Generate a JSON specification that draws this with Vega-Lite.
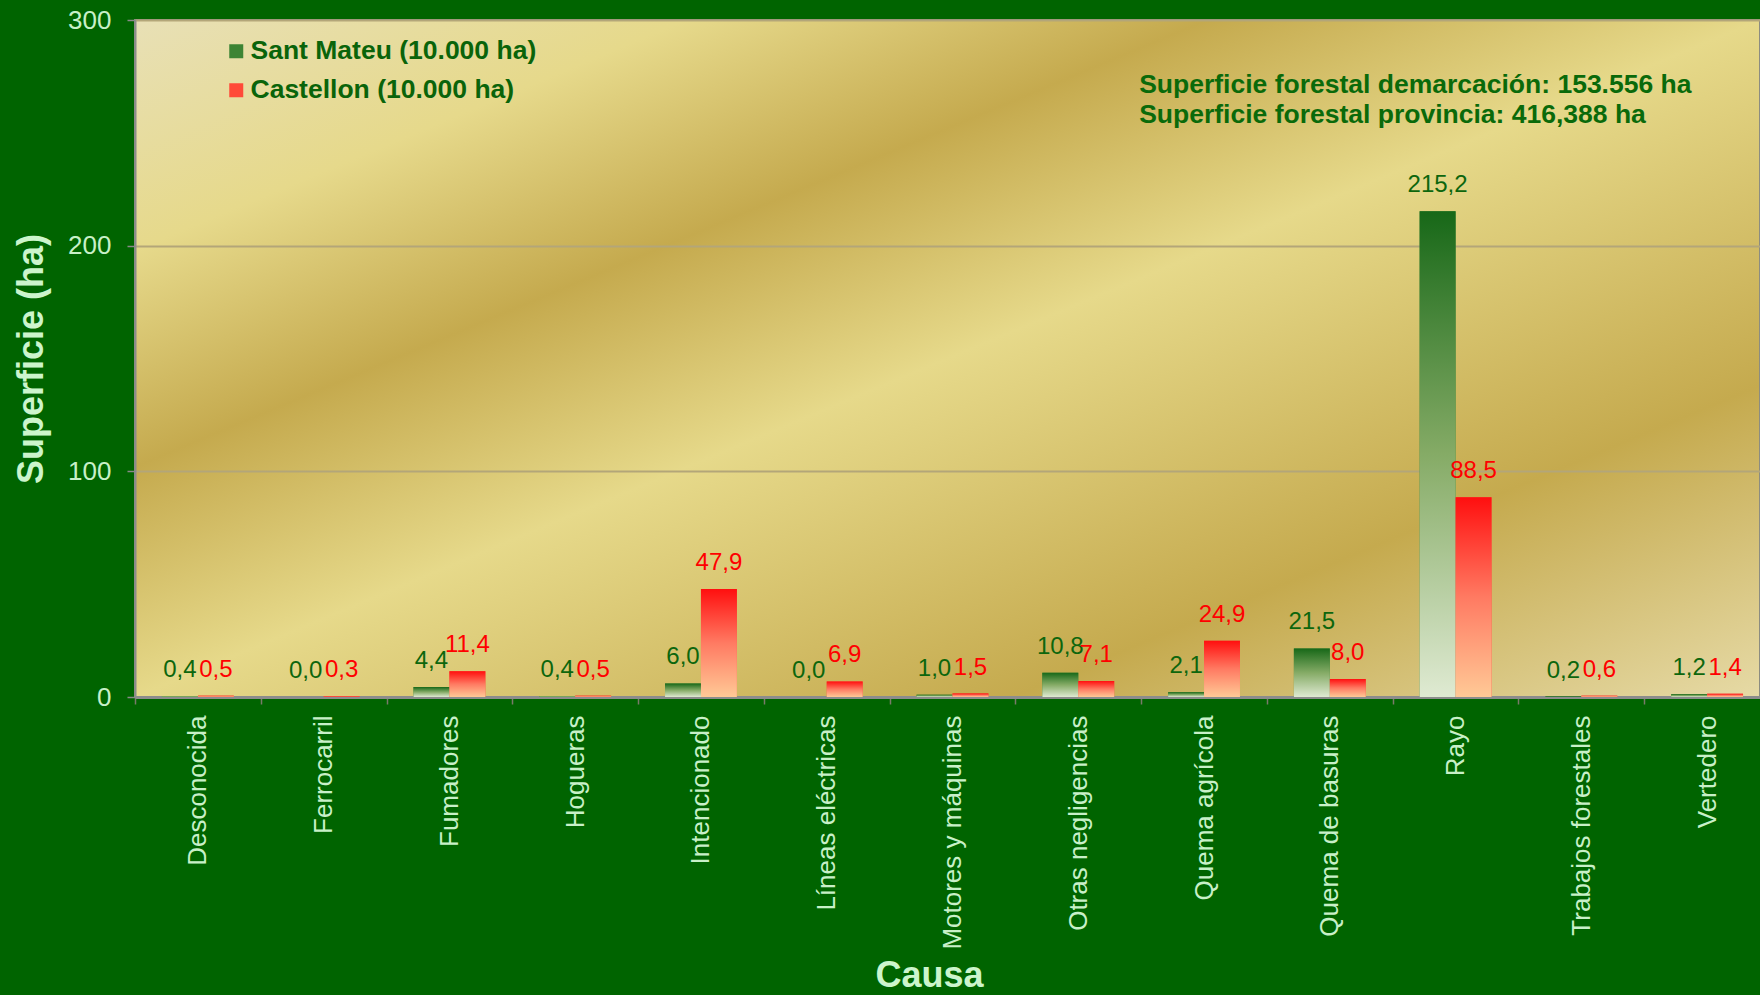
{
  "$schema": "https://vega.github.io/schema/vega-lite/v6.json",
  "width": 1625,
  "height": 677,
  "autosize": {"type": "none"},
  "padding": {"left": 135, "top": 20, "right": 0, "bottom": 298},
  "background": "#006400",
  "config": {
    "locale": {"number": {"decimal": ",", "thousands": ".", "grouping": [3], "currency": ["", " €"]}},
    "font": "Liberation Sans",
    "view": {
      "fill": {
        "gradient": "linear", "x1": 0, "y1": 0, "x2": 1, "y2": 1,
        "stops": [
          {"offset": 0, "color": "#e8e0b6"},
          {"offset": 0.17, "color": "#e6d98b"},
          {"offset": 0.33, "color": "#c5aa4e"},
          {"offset": 0.5, "color": "#e6d98a"},
          {"offset": 0.77, "color": "#c5aa4e"},
          {"offset": 1, "color": "#e6daa6"}
        ]
      },
      "stroke": "#8c8c80",
      "strokeWidth": 2
    }
  },
  "datasets": {
    "bars": [
      {"cause": "Desconocida", "serie": "Sant Mateu (10.000 ha)", "value": 0.4},
      {"cause": "Desconocida", "serie": "Castellon (10.000 ha)", "value": 0.5},
      {"cause": "Ferrocarril", "serie": "Sant Mateu (10.000 ha)", "value": 0.0},
      {"cause": "Ferrocarril", "serie": "Castellon (10.000 ha)", "value": 0.3},
      {"cause": "Fumadores", "serie": "Sant Mateu (10.000 ha)", "value": 4.4},
      {"cause": "Fumadores", "serie": "Castellon (10.000 ha)", "value": 11.4},
      {"cause": "Hogueras", "serie": "Sant Mateu (10.000 ha)", "value": 0.4},
      {"cause": "Hogueras", "serie": "Castellon (10.000 ha)", "value": 0.5},
      {"cause": "Intencionado", "serie": "Sant Mateu (10.000 ha)", "value": 6.0},
      {"cause": "Intencionado", "serie": "Castellon (10.000 ha)", "value": 47.9},
      {"cause": "Líneas eléctricas", "serie": "Sant Mateu (10.000 ha)", "value": 0.0},
      {"cause": "Líneas eléctricas", "serie": "Castellon (10.000 ha)", "value": 6.9},
      {"cause": "Motores y máquinas", "serie": "Sant Mateu (10.000 ha)", "value": 1.0},
      {"cause": "Motores y máquinas", "serie": "Castellon (10.000 ha)", "value": 1.5},
      {"cause": "Otras negligencias", "serie": "Sant Mateu (10.000 ha)", "value": 10.8},
      {"cause": "Otras negligencias", "serie": "Castellon (10.000 ha)", "value": 7.1},
      {"cause": "Quema agrícola", "serie": "Sant Mateu (10.000 ha)", "value": 2.1},
      {"cause": "Quema agrícola", "serie": "Castellon (10.000 ha)", "value": 24.9},
      {"cause": "Quema de basuras", "serie": "Sant Mateu (10.000 ha)", "value": 21.5},
      {"cause": "Quema de basuras", "serie": "Castellon (10.000 ha)", "value": 8.0},
      {"cause": "Rayo", "serie": "Sant Mateu (10.000 ha)", "value": 215.2},
      {"cause": "Rayo", "serie": "Castellon (10.000 ha)", "value": 88.5},
      {"cause": "Trabajos forestales", "serie": "Sant Mateu (10.000 ha)", "value": 0.2},
      {"cause": "Trabajos forestales", "serie": "Castellon (10.000 ha)", "value": 0.6},
      {"cause": "Vertedero", "serie": "Sant Mateu (10.000 ha)", "value": 1.2},
      {"cause": "Vertedero", "serie": "Castellon (10.000 ha)", "value": 1.4}
    ],
    "notes": [
      {"cause": "Quema agrícola", "value": 271.2, "note": "Superficie forestal demarcación: 153.556 ha"},
      {"cause": "Quema agrícola", "value": 258.1, "note": "Superficie forestal provincia: 416,388 ha"}
    ]
  },
  "layer": [
    {
      "data": {"name": "bars"},
      "mark": {"type": "bar"},
      "encoding": {
        "x": {
          "field": "cause", "type": "nominal",
          "scale": {
            "domain": ["Desconocida", "Ferrocarril", "Fumadores", "Hogueras", "Intencionado", "Líneas eléctricas", "Motores y máquinas", "Otras negligencias", "Quema agrícola", "Quema de basuras", "Rayo", "Trabajos forestales", "Vertedero"],
            "paddingInner": 0, "paddingOuter": 0, "range": [0, 1635]
          },
          "axis": {
            "title": "Causa", "labelAngle": -90, "labelAlign": "right", "labelBaseline": "middle",
            "labelFontSize": 26, "labelColor": "#c8f0c8", "labelPadding": 11, "labelLimit": 0,
            "tickBand": "extent", "tickSize": 7, "tickColor": "#7a7a6a", "tickWidth": 1.5,
            "domainColor": "#8c8c8c", "domainWidth": 3,
            "titleFontSize": 36, "titleFontWeight": "bold", "titleColor": "#ccf5cc",
            "titleX": 794, "titleY": 289, "titleAlign": "center", "titleBaseline": "alphabetic",
            "grid": false
          }
        },
        "xOffset": {
          "field": "serie", "type": "nominal",
          "scale": {"domain": ["Sant Mateu (10.000 ha)", "Castellon (10.000 ha)"], "paddingInner": 0, "paddingOuter": 0.75}
        },
        "y": {
          "field": "value", "type": "quantitative",
          "scale": {"domain": [0, 300], "nice": false},
          "axis": {
            "title": "Superficie (ha)", "values": [0, 100, 200, 300], "format": "d",
            "labelFontSize": 26, "labelColor": "#c8f0c8", "labelPadding": 16,
            "tickSize": 8, "tickColor": "#8a8a8a", "tickWidth": 1.5,
            "domainColor": "#8c8c8c", "domainWidth": 2,
            "gridColor": "#b3a679", "gridWidth": 2,
            "titleFontSize": 36, "titleFontWeight": "bold", "titleColor": "#ccf5cc", "titlePadding": 17
          }
        },
        "color": {
          "field": "serie", "type": "nominal",
          "scale": {
            "domain": ["Sant Mateu (10.000 ha)", "Castellon (10.000 ha)"],
            "range": ["#3d8434", "#ff4a38"]
          },
          "legend": {
            "orient": "none", "legendX": 88, "legendY": 18, "title": null,
            "symbolType": "square", "symbolSize": 196, "symbolStrokeWidth": 0,
            "labelFontSize": 26.5, "labelFontWeight": "bold", "labelColor": "#0a640a",
            "labelOffset": 1, "rowPadding": 12, "labelLimit": 0,
            "encode": {
              "symbols": {
                "update": {
                  "fill": {"signal": "datum.value === 'Sant Mateu (10.000 ha)' ? {gradient: 'linear', x1: 0, y1: 0, x2: 0, y2: 1, stops: [{offset: 0, color: '#176818'}, {offset: 1, color: '#dfead2'}]} : {gradient: 'linear', x1: 0, y1: 0, x2: 0, y2: 1, stops: [{offset: 0, color: '#ff0f0f'}, {offset: 1, color: '#ffd0a8'}]}"}
                }
              }
            }
          }
        }
      }
    },
    {
      "data": {"name": "bars"},
      "mark": {"type": "bar"},
      "encoding": {
        "x": {"field": "cause", "type": "nominal"},
        "xOffset": {"field": "serie", "type": "nominal"},
        "y": {"field": "value", "type": "quantitative"},
        "fill": {
          "condition": {
            "test": "datum.serie === 'Sant Mateu (10.000 ha)'",
            "value": {"gradient": "linear", "x1": 0, "y1": 0, "x2": 0, "y2": 1,
               "stops": [{"offset": 0, "color": "#176818"}, {"offset": 0.5, "color": "#85ab66"}, {"offset": 1, "color": "#dfead2"}]}
          },
          "value": {"gradient": "linear", "x1": 0, "y1": 0, "x2": 0, "y2": 1,
               "stops": [{"offset": 0, "color": "#ff0f0f"}, {"offset": 0.5, "color": "#ff7a62"}, {"offset": 1, "color": "#ffc996"}]}
        }
      }
    },
    {
      "data": {"name": "bars"},
      "mark": {"type": "text", "baseline": "alphabetic", "dy": -19, "fontSize": 24},
      "encoding": {
        "x": {"field": "cause", "type": "nominal"},
        "xOffset": {"field": "serie", "type": "nominal"},
        "y": {"field": "value", "type": "quantitative"},
        "text": {"field": "value", "type": "quantitative", "format": ".1f"},
        "color": {
          "condition": {"test": "datum.serie === 'Sant Mateu (10.000 ha)'", "value": "#0d660d"},
          "value": "#ff0000"
        }
      }
    },
    {
      "data": {"name": "notes"},
      "mark": {"type": "text", "align": "left", "baseline": "middle", "fontSize": 26.5, "fontWeight": "bold", "color": "#0a6a0a", "dx": -2},
      "encoding": {
        "x": {"field": "cause", "type": "nominal", "bandPosition": 0},
        "y": {"field": "value", "type": "quantitative"},
        "text": {"field": "note", "type": "nominal"}
      }
    }
  ]
}
